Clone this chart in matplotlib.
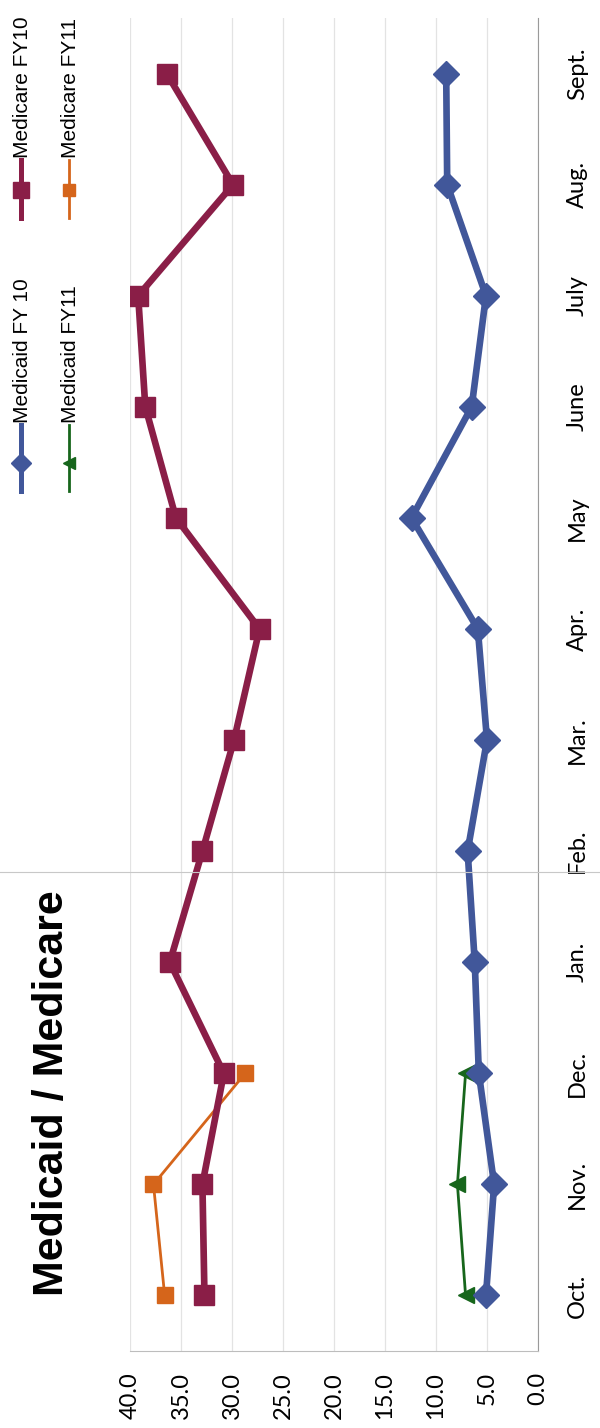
import matplotlib
matplotlib.use("Agg")
import matplotlib.pyplot as plt
from matplotlib.lines import Line2D

# Daten (Monate Okt. bis Sept.)
months = ["Oct.", "Nov.", "Dec.", "Jan.", "Feb.", "Mar.", "Apr.", "May",
          "June", "July", "Aug.", "Sept."]
medicaid_fy10 = [5.1, 4.3, 5.8, 6.2, 6.9, 5.0, 5.9, 12.4, 6.5, 5.1, 8.9, 9.0]
medicaid_fy11 = [7.1, 7.9, 7.1]
medicare_fy10 = [32.7, 32.9, 30.8, 36.1, 32.9, 29.8, 27.3, 35.5, 38.5, 39.2, 29.9, 36.4]
medicare_fy11 = [36.6, 37.7, 28.7]
value_ticks = [0, 5, 10, 15, 20, 25, 30, 35, 40]

c_caid10 = "#41579a"
c_caid11 = "#17661c"
c_care10 = "#8a1e47"
c_care11 = "#d5651b"

W, H = 600, 1428
fig = plt.figure(figsize=(W / 100, H / 100), dpi=100)
fig.patch.set_facecolor("white")

# Diagramm ist um 90 Grad gedreht: Werte horizontal (40 links, 0 rechts), Monate vertikal
ax = fig.add_axes([130 / W, 1 - 1351 / H, (538 - 130) / W, (1351 - 18) / H])
idx = list(range(len(months)))

ax.plot(medicare_fy10, idx, color=c_care10, lw=4.8, marker="s", ms=15, zorder=4)
ax.plot(medicare_fy11, idx[:len(medicare_fy11)], color=c_care11, lw=2.0,
        marker="s", ms=11, zorder=3)
ax.plot(medicaid_fy10, idx, color=c_caid10, lw=4.8, marker="D", ms=13, zorder=4)
ax.plot(medicaid_fy11, idx[:len(medicaid_fy11)], color=c_caid11, lw=2.0,
        marker="<", ms=11, zorder=3)

ax.set_xlim(40, 0)
ax.set_ylim(-0.5, len(months) - 0.5)
ax.set_xticks(value_ticks)
ax.set_xticklabels([f"{v:.1f}" for v in value_ticks], rotation=90,
                   family="Lato", fontsize=17)
ax.set_yticks(idx)
ax.set_yticklabels(months, rotation=90, family="Lato", fontsize=17, va="center")
ax.yaxis.tick_right()
ax.tick_params(axis="x", length=0, pad=15)
ax.tick_params(axis="y", length=0, pad=21)
ax.grid(axis="x", color="#e3e3e3", lw=0.9)
ax.set_axisbelow(True)
for side in ["top", "left"]:
    ax.spines[side].set_visible(False)
ax.spines["bottom"].set_color("#bdbdbd")
ax.spines["bottom"].set_linestyle((0, (4, 1)))
ax.spines["right"].set_color("#9a9a9a")

# Overlay in Pixelkoordinaten fuer Titel und Legende
ov = fig.add_axes([0, 0, 1, 1], facecolor="none")
ov.set_xlim(0, W)
ov.set_ylim(H, 0)
ov.axis("off")

ov.text(52, 1093, "Medicaid / Medicare", rotation=90, ha="center", va="center",
        family="Liberation Sans", fontweight="bold", fontsize=31)

# Scan-Falz
ov.add_line(Line2D([0, W], [872, 872], color="#c8c8c8", lw=0.8))

legend_items = [
    ("Medicaid FY 10", c_caid10, "D", 3.6, 10, 21, 463, 40),
    ("Medicaid FY11", c_caid11, "<", 2.0, 9, 69, 463, 40),
    ("Medicare FY10", c_care10, "s", 3.6, 11, 21, 190, 32),
    ("Medicare FY11", c_care11, "s", 2.0, 9, 69, 190, 32),
]
for label, col, mk, lw, ms, x, y, gap in legend_items:
    ov.add_line(Line2D([x, x], [y + 28, y - gap + 2], color=col, lw=lw))
    ov.plot([x], [y], marker=mk, color=col, ms=ms)
    ov.text(x + 2, y - gap, label, rotation=90, rotation_mode="anchor", ha="left",
            va="center", family="Liberation Sans", fontsize=15)

fig.savefig("out.png", dpi=100)
